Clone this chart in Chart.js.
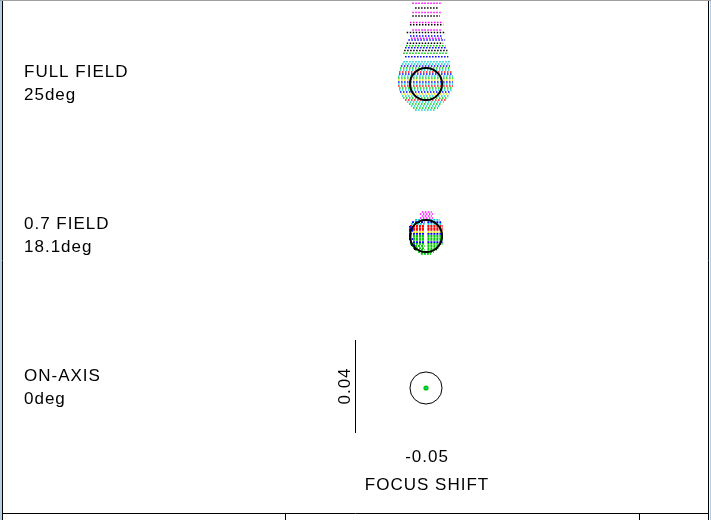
<!DOCTYPE html>
<html>
<head>
<meta charset="utf-8">
<style>
  html, body { margin: 0; padding: 0; background: #fff; }
  canvas { display: block; }
</style>
</head>
<body>
<canvas id="spot" width="711" height="520"></canvas>
<script src="https://cdn.jsdelivr.net/npm/chart.js@4/dist/chart.umd.min.js"></script>
<script>
// field labels
const fieldNames = ['FULL FIELD', '0.7 FIELD', 'ON-AXIS'];
const fieldAngles = ['25deg', '18.1deg', '0deg'];
const focusShiftLabel = '-0.05';
const axisTitle = 'FOCUS SHIFT';
const scaleBarLabel = '0.04';
const scaleBarUm = 40;      // 0.04 mm
const airyRadiusUm = 6.9;

// spot rows: [dy, xStart, xEnd] in um, relative to the chief ray
const fullMagenta = [[34.7, -5.9, 6.3], [30.7, -5.9, 6.3], [26.4, -6.9, 7.4], [23.2, -5.9, 6.8], [19.7, -6.5, 6.9]];
const fullBlack = [[32.7, -4.7, 5.3], [29.2, -5.9, 6.0], [25.5, -6.9, 7.4], [22.1, -8.3, 8.2], [17.5, -8.3, 7.4], [14.4, -9.4, 9.2]];
const fullBlue = [[20.6, -6.9, 6.8], [18.9, -7.6, 8.2], [15.6, -9.0, 8.9], [11.7, -9.0, 9.6],
  [7.7, -10.8, 10.3], [4.3, -11.6, 11.2], [0.9, -12.0, 11.6], [-3.4, -11.2, 10.8]];
const fullGreen = [[16.4, -8.6, 8.4], [13.2, -9.8, 9.6], [6.9, -11.2, 10.3], [2.6, -12.0, 11.6],
  [-1.7, -11.6, 11.2], [-6.0, -9.9, 9.5], [-8.6, -7.3, 6.9], [-10.3, -5.6, 5.2]];
const fullCyan = [[9.6, -9.8, 10.3], [8.6, -10.3, 9.9], [6.0, -11.2, 10.3], [3.4, -12.0, 11.6], [0.0, -12.0, 11.6],
  [-2.6, -11.6, 11.2], [-5.2, -10.3, 9.9], [-7.7, -8.2, 7.7], [-9.5, -6.5, 6.0], [-11.2, -4.7, 4.3]];
const fullRed = [[5.2, -11.6, 11.2], [-0.9, -12.0, 11.6], [-6.9, -9.0, 8.6]];
const fullYellow = [[1.7, -12.0, 11.6], [-4.3, -10.8, 10.3]];

const midMagenta = [[10.3, -1.8, 2.5], [9.5, -2.6, 3.0], [8.6, -1.8, 2.5], [7.7, -2.6, 3.0]];
const midCyan = [[6.9, -4.7, -0.6], [6.9, 0.6, 6.0], [5.2, -6.5, -0.6], [5.2, 0.6, 6.9]];
const midBlue = [[6.0, -6.0, -0.6], [6.0, 0.6, 6.5], [0.9, -6.9, -0.6], [0.9, 0.6, 7.3],
  [-2.6, -6.9, -0.6], [-2.6, 0.6, 7.3], [3.9, -7.3, -5.6], [3.0, -7.3, -5.6], [2.2, -7.3, -5.6],
  [-1.3, -7.3, -5.6], [-3.9, -6.5, -4.7]];
const midRed = [[4.3, -6.9, -0.6], [4.3, 0.6, 7.3], [3.4, -6.9, -0.6], [3.4, 0.6, 7.3], [2.6, -6.9, -0.6], [2.6, 0.6, 7.3]];
const midYellow = [[1.7, -6.9, -0.6], [1.7, 0.6, 7.3]];
const midGreen = [[0.0, -6.9, -0.6], [0.0, 0.6, 7.3], [-0.9, -6.9, -0.6], [-0.9, 0.6, 7.3],
  [-1.7, -6.9, -0.6], [-1.7, 0.6, 7.3], [-3.4, -6.9, -0.6], [-3.4, 0.6, 7.3],
  [-4.3, -6.0, -0.6], [-4.3, 0.6, 6.0], [-5.2, -5.6, -0.6], [-5.2, 0.6, 5.6],
  [-6.0, -4.7, -0.6], [-6.0, 0.6, 4.7], [-6.9, -3.4, 3.4], [-7.7, -2.2, 2.2]];
const midBlack = [[-5.6, -5.2, -3.9], [-5.6, 3.9, 5.2]];

const onAxisGreen = [[0, 0]];
const onAxisCyan = [[0, 0]];

// layout
const PX_PER_UM = 2.325;           // 40 um bar is ~93 px
const ORIGIN_PX = { x: 426, y: 388 };
const fieldCenterY = [(388 - 84) / PX_PER_UM, (388 - 236) / PX_PER_UM, 0];
const scaleBarX = (355.5 - 426) / PX_PER_UM;
const scaleBarMid = 0.65;

const COLORS = {
  magenta: '#ff00ff', black: '#000000', blue: '#0000ff', green: '#00c800',
  cyan: '#00d0d0', red: '#ff0000', yellow: '#e0e000'
};

function rowsToPoints(rows, yOff) {
  const pts = [];
  rows.forEach(r => {
    pts.push({ x: r[1], y: r[0] + yOff });
    pts.push({ x: r[2], y: r[0] + yOff });
    pts.push({ x: r[2], y: null });
  });
  return pts;
}

function rowSet(rows, color, yOff, dense) {
  return {
    data: rowsToPoints(rows, yOff),
    showLine: true,
    borderColor: color,
    borderWidth: dense ? 1.8 : 1.5,
    borderDash: dense ? [2, 1] : [1.5, 1.5],
    pointRadius: 0,
    fill: false,
    tension: 0
  };
}

const datasets = [
  rowSet(fullMagenta, COLORS.magenta, fieldCenterY[0]),
  rowSet(fullBlack, COLORS.black, fieldCenterY[0]),
  rowSet(fullBlue, COLORS.blue, fieldCenterY[0]),
  rowSet(fullGreen, COLORS.green, fieldCenterY[0]),
  rowSet(fullCyan, COLORS.cyan, fieldCenterY[0]),
  rowSet(fullRed, COLORS.red, fieldCenterY[0]),
  rowSet(fullYellow, COLORS.yellow, fieldCenterY[0]),
  rowSet(midMagenta, COLORS.magenta, fieldCenterY[1]),
  rowSet(midBlack, COLORS.black, fieldCenterY[1], true),
  rowSet(midBlue, COLORS.blue, fieldCenterY[1], true),
  rowSet(midCyan, COLORS.cyan, fieldCenterY[1], true),
  rowSet(midRed, COLORS.red, fieldCenterY[1], true),
  rowSet(midYellow, COLORS.yellow, fieldCenterY[1], true),
  rowSet(midGreen, COLORS.green, fieldCenterY[1], true),
  {
    data: onAxisCyan.map(p => ({ x: p[0], y: p[1] + fieldCenterY[2] })),
    pointRadius: 1, pointBackgroundColor: COLORS.cyan, pointBorderWidth: 0
  },
  {
    data: onAxisGreen.map(p => ({ x: p[0], y: p[1] + fieldCenterY[2] })),
    pointRadius: 2.6, pointBackgroundColor: COLORS.green, pointBorderWidth: 0
  },
  {
    data: [{ x: scaleBarX, y: scaleBarMid - scaleBarUm / 2 }, { x: scaleBarX, y: scaleBarMid + scaleBarUm / 2 }],
    showLine: true, borderColor: '#000', borderWidth: 1, pointRadius: 0
  }
];

const FONT = '17px "Liberation Sans", Arial, sans-serif';

const decor = {
  id: 'decor',
  beforeDraw(chart) {
    const ctx = chart.ctx;
    ctx.save();
    ctx.fillStyle = '#fff';
    ctx.fillRect(0, 0, 711, 520);
    ctx.restore();
  },
  afterDatasetsDraw(chart) {
    const ctx = chart.ctx;
    const xs = chart.scales.x, ys = chart.scales.y;
    ctx.save();
    // airy circles
    ctx.strokeStyle = '#000';
    fieldCenterY.forEach((cy, i) => {
      const px = xs.getPixelForValue(0);
      const py = ys.getPixelForValue(cy);
      const r = xs.getPixelForValue(airyRadiusUm) - px;
      ctx.lineWidth = i === 2 ? 1 : 2;
      ctx.beginPath();
      ctx.arc(px, py, r, 0, Math.PI * 2);
      ctx.stroke();
    });

    // labels
    ctx.fillStyle = '#000';
    ctx.font = FONT;
    ctx.letterSpacing = '1px';
    ctx.textBaseline = 'alphabetic';
    ctx.textAlign = 'left';
    const base = [77, 229, 381];
    fieldNames.forEach((n, i) => {
      ctx.fillText(n, 24, base[i]);
      ctx.fillText(fieldAngles[i], 24, base[i] + 23);
    });
    ctx.textAlign = 'center';
    ctx.fillText(focusShiftLabel, 427, 462);
    ctx.fillText(axisTitle, 427, 490);
    ctx.save();
    ctx.translate(350, 386);
    ctx.rotate(-Math.PI / 2);
    ctx.fillText(scaleBarLabel, 0, 0);
    ctx.restore();

    // window frame
    ctx.fillStyle = '#b4cde6';
    ctx.fillRect(0, 0, 2, 520);
    ctx.fillRect(710, 0, 1, 520);
    ctx.fillStyle = '#a0a0a0';
    ctx.fillRect(0, 0, 711, 1);
    ctx.strokeStyle = '#000';
    ctx.lineWidth = 1;
    ctx.beginPath();
    ctx.moveTo(2.5, 1); ctx.lineTo(2.5, 520);
    ctx.moveTo(708.5, 1); ctx.lineTo(708.5, 520);
    ctx.moveTo(2, 513.5); ctx.lineTo(709, 513.5);
    ctx.moveTo(285.5, 513); ctx.lineTo(285.5, 520);
    ctx.moveTo(639.5, 513); ctx.lineTo(639.5, 520);
    ctx.stroke();
    ctx.restore();
  }
};

new Chart(document.getElementById('spot'), {
  type: 'scatter',
  data: { datasets },
  options: {
    responsive: false,
    animation: false,
    layout: { padding: 0, autoPadding: false },
    scales: {
      x: { type: 'linear', display: false, min: -ORIGIN_PX.x / PX_PER_UM, max: (711 - ORIGIN_PX.x) / PX_PER_UM },
      y: { type: 'linear', display: false, min: -(520 - ORIGIN_PX.y) / PX_PER_UM, max: ORIGIN_PX.y / PX_PER_UM }
    },
    plugins: { legend: { display: false }, tooltip: { enabled: false } },
    elements: { line: { borderCapStyle: 'butt' } }
  },
  plugins: [decor]
});
</script>
</body>
</html>
